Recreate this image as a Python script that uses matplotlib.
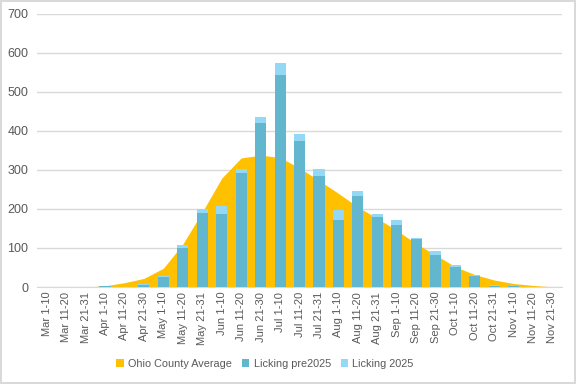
import matplotlib
matplotlib.use("Agg")
import matplotlib.pyplot as plt
import numpy as np

categories = ["Mar 1-10", "Mar 11-20", "Mar 21-31", "Apr 1-10", "Apr 11-20", "Apr 21-30",
              "May 1-10", "May 11-20", "May 21-31", "Jun 1-10", "Jun 11-20", "Jun 21-30",
              "Jul 1-10", "Jul 11-20", "Jul 21-31", "Aug 1-10", "Aug 11-20", "Aug 21-31",
              "Sep 1-10", "Sep 11-20", "Sep 21-30", "Oct 1-10", "Oct 11-20", "Oct 21-31",
              "Nov 1-10", "Nov 11-20", "Nov 21-30"]
ohio_avg = [0, 0, 0, 3, 11, 22, 48, 110, 192, 279, 331, 338, 332, 305, 273, 240, 205, 176,
            145, 111, 82, 52, 32, 18, 9, 4, 0.5]
licking_pre = [0, 0, 0, 2, 0, 5, 26, 101, 190, 187, 292, 420, 544, 374, 285, 172, 233, 179,
               159, 122, 82, 50, 28, 3, 2, 0, 0]
licking_total = [0, 0, 0, 3, 0, 8, 29, 108, 199, 208, 302, 436, 574, 392, 302, 197, 246, 187,
                 172, 126, 92, 56, 31, 5, 3, 0, 0]
licking_2025 = [t - p for t, p in zip(licking_total, licking_pre)]

plt.rcParams['font.family'] = ['Liberation Sans Narrow', 'Liberation Sans', 'DejaVu Sans']

fig = plt.figure(figsize=(5.76, 3.84), dpi=100)
fig.patch.set_facecolor('white')
fig.patch.set_edgecolor('#D9D9D9')
fig.patch.set_linewidth(1.5)
ax = fig.add_axes([0.064, 0.2526, 0.912, 0.711])

x = np.arange(len(categories))
gold = '#FFC000'
blue = '#62B7CF'
light = '#93D8F4'

ax.fill_between(x, ohio_avg, color=gold, linewidth=0, zorder=2, label='Ohio County Average')
ax.bar(x, licking_pre, width=0.57, color=blue, zorder=3, label='Licking pre2025')
ax.bar(x, licking_2025, width=0.57, bottom=licking_pre, color=light, zorder=3, label='Licking 2025')

ax.set_xlim(-0.5, len(categories) - 0.5)
ax.set_ylim(0, 700)
ax.set_yticks(range(0, 701, 100))
ax.yaxis.grid(True, color='#D9D9D9', linewidth=1)
ax.set_axisbelow(True)
for s in ['top', 'right', 'left']:
    ax.spines[s].set_visible(False)
ax.spines['bottom'].set_color('#D9D9D9')
ax.tick_params(axis='both', length=0, colors='#595959', labelsize=8)
ax.tick_params(axis='y', pad=6, labelsize=9)
ax.set_xticks(x)
ax.set_xticklabels(categories, rotation=90)

handles, labels = ax.get_legend_handles_labels()
leg = fig.legend(handles, labels, loc='center', bbox_to_anchor=(0.46, 0.053), ncol=3,
                 frameon=False, fontsize=7.8, handlelength=0.7, handleheight=0.7,
                 handletextpad=0.4, columnspacing=0.9, labelcolor='#595959')

fig.savefig('out.png', dpi=100, facecolor=fig.get_facecolor(), edgecolor=fig.get_edgecolor())
